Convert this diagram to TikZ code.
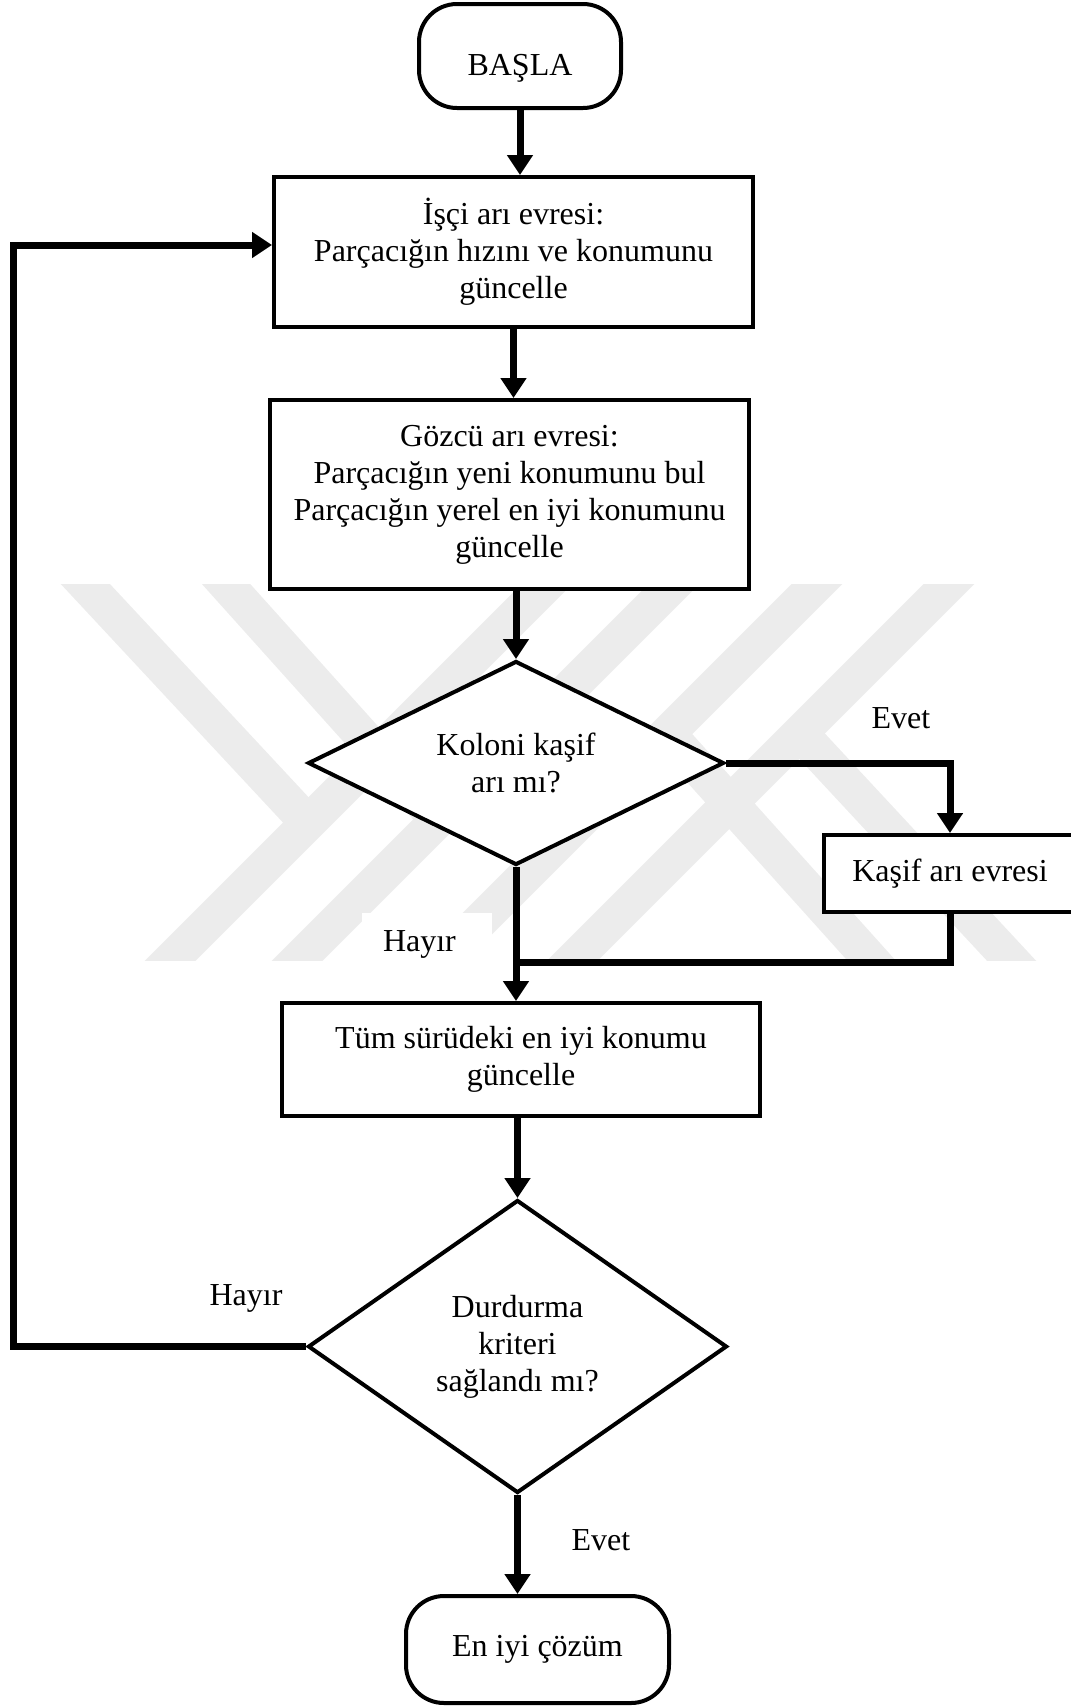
\documentclass[tikz,border=0pt]{standalone}
\usepackage{fontspec}
\setmainfont{Liberation Serif}
\usetikzlibrary{arrows.meta,shapes.geometric}

\definecolor{wmgray}{RGB}{236,236,236}

\begin{document}
\begin{tikzpicture}[x=1pt,y=-1pt,
  every node/.style={font=\fontsize{32}{37}\selectfont},
  proc/.style={draw, line width=4pt, fill=white, align=center, inner sep=0pt},
  term/.style={draw, line width=4pt, fill=white, rounded corners=38pt, inner sep=0pt},
  dec/.style={draw, diamond, line width=4pt, fill=white, align=center, inner sep=0pt},
  flow/.style={line width=7pt, -{Triangle[length=20pt,width=25pt]}},
  link/.style={line width=7pt},
  lbl/.style={inner sep=0pt},
  wm/.style={draw=wmgray, line width=36pt}
]
\useasboundingbox (0,0) rectangle (1071,1706);

% faint background emblem: four long diagonal bars with side arms
\begin{scope}
  \clip (40,584) rectangle (1045,960);
  \draw[wm] (571,560) -- (131,1000);
  \draw[wm] (698,560) -- (258,1000);
  \draw[wm] (841,560) -- (401,1000);
  \draw[wm] (973,560) -- (533,1000);
  \draw[wm] (63,560) -- (308,823);
  \draw[wm] (204.5,560) -- (438,820);
  \draw[wm] (668,734) -- (907,1000);
  \draw[wm] (798,731) -- (1048,1000);
\end{scope}

% flowchart nodes
\node[term, minimum width=202pt, minimum height=104pt, text height=45pt, text depth=7pt]
  (start) at (520,56) {BAŞLA};
\node[proc, minimum width=479pt, minimum height=150pt] (box1) at (513.5,252)
  {İşçi arı evresi:\\Parçacığın hızını ve konumunu\\güncelle};
\node[proc, minimum width=479pt, minimum height=189pt] (box2) at (509.5,494.5)
  {Gözcü arı evresi:\\Parçacığın yeni konumunu bul\\Parçacığın yerel en iyi konumunu\\güncelle};
\node[dec, aspect=2.04, minimum width=416pt, minimum height=204pt] (dia1) at (516,763)
  {Koloni kaşif\\arı mı?};
\node[proc, minimum width=252pt, minimum height=77pt] (kasif) at (950,873.5)
  {Kaşif arı evresi};
\node[proc, minimum width=478pt, minimum height=113pt] (box3) at (521,1059.5)
  {Tüm sürüdeki en iyi konumu\\güncelle};
\node[dec, aspect=1.43, minimum width=419pt, minimum height=293pt] (dia2) at (517.5,1346.5)
  {Durdurma\\kriteri\\sağlandı mı?};
\node[term, minimum width=263pt, minimum height=107pt] (finish) at (537.5,1649.5)
  {En iyi çözüm};

% branch labels
\node[lbl] (evet1) at (901,718) {Evet};
\node[lbl, fill=white, text width=88pt, inner xsep=21pt, align=left,
      minimum height=62pt] (hayir1) at (427,944) {Hayır};
\node[lbl] (hayir2) at (246,1298) {Hayır};
\node[lbl] (evet2) at (601,1540) {Evet};

% connectors
\coordinate (joinlvl) at (0,962);
\coordinate (loopx) at (13,0);
\coordinate (loopin) at ([yshift=7pt]box1.west);
\draw[flow] (start.south) -- (start.south |- box1.north);
\draw[flow] (box1.south) -- (box1.south |- box2.north);
\draw[flow] (box2.south -| dia1.north) -- (dia1.north);
\draw[flow] (dia1.east) -| (kasif.north);
\draw[flow] (dia1.south) -- (dia1.south |- box3.north);
\draw[link] (kasif.south) |- (dia1.south |- joinlvl);
\draw[flow] (box3.south -| dia2.north) -- (dia2.north);
\draw[flow] (dia2.south) -- (dia2.south |- finish.north);
\draw[flow] (dia2.west) -- (loopx |- dia2.west) -- (loopx |- loopin) -- (loopin);
\end{tikzpicture}
\end{document}
